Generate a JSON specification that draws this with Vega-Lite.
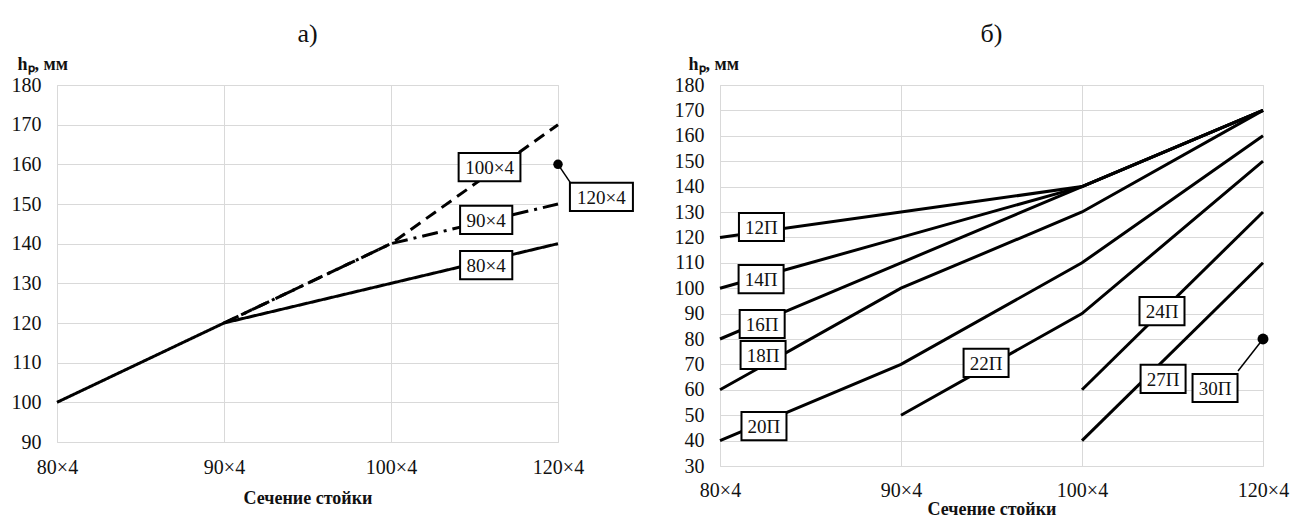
{
  "$schema": "https://vega.github.io/schema/vega-lite/v6.json",
  "background": "white",
  "padding": {"left": 10, "top": 20, "right": 5, "bottom": 5},
  "spacing": 162,
  "bounds": "flush",
  "config": {
    "view": {"stroke": "#d9d9d9", "strokeWidth": 1},
    "axis": {"domain": false, "ticks": false, "grid": true, "gridColor": "#d9d9d9", "gridWidth": 1, "labelOverlap": false, "labelFlush": false, "labelFont": "Times New Roman, Liberation Serif, serif", "labelFontSize": 20, "labelColor": "#111", "titleFont": "Times New Roman, Liberation Serif, serif", "titleFontSize": 18, "titleFontWeight": "bold", "titleColor": "#111"},
    "title": {"font": "Times New Roman, Liberation Serif, serif", "fontSize": 26, "fontWeight": "normal", "color": "#111", "anchor": "middle", "frame": "group"}
  },
  "datasets": {
    "a_lines": [
      {"series": "80×4", "i": 0, "hp": 100}, {"series": "80×4", "i": 1, "hp": 120}, {"series": "80×4", "i": 2, "hp": 130}, {"series": "80×4", "i": 3, "hp": 140},
      {"series": "90×4", "i": 1, "hp": 120}, {"series": "90×4", "i": 2, "hp": 140}, {"series": "90×4", "i": 3, "hp": 150},
      {"series": "100×4", "i": 1, "hp": 120}, {"series": "100×4", "i": 2, "hp": 140}, {"series": "100×4", "i": 3, "hp": 170}
    ],
    "a_points": [{"series": "120×4", "i": 3, "hp": 160}],
    "a_leaders": [{"i": 3, "hp": 160, "i2": 3.08, "hp2": 155}],
    "a_labels": [
      {"label": "100×4", "i": 2.59, "hp": 159.3},
      {"label": "90×4", "i": 2.57, "hp": 146},
      {"label": "80×4", "i": 2.57, "hp": 134.6},
      {"label": "120×4", "i": 3.26, "hp": 151.8}
    ],
    "b_lines": [
      {"series": "12П", "i": 0, "hp": 120}, {"series": "12П", "i": 1, "hp": 130}, {"series": "12П", "i": 2, "hp": 140}, {"series": "12П", "i": 3, "hp": 170},
      {"series": "14П", "i": 0, "hp": 100}, {"series": "14П", "i": 1, "hp": 120}, {"series": "14П", "i": 2, "hp": 140}, {"series": "14П", "i": 3, "hp": 170},
      {"series": "16П", "i": 0, "hp": 80}, {"series": "16П", "i": 1, "hp": 110}, {"series": "16П", "i": 2, "hp": 140}, {"series": "16П", "i": 3, "hp": 170},
      {"series": "18П", "i": 0, "hp": 60}, {"series": "18П", "i": 1, "hp": 100}, {"series": "18П", "i": 2, "hp": 130}, {"series": "18П", "i": 3, "hp": 170},
      {"series": "20П", "i": 0, "hp": 40}, {"series": "20П", "i": 1, "hp": 70}, {"series": "20П", "i": 2, "hp": 110}, {"series": "20П", "i": 3, "hp": 160},
      {"series": "22П", "i": 1, "hp": 50}, {"series": "22П", "i": 2, "hp": 90}, {"series": "22П", "i": 3, "hp": 150},
      {"series": "24П", "i": 2, "hp": 60}, {"series": "24П", "i": 3, "hp": 130},
      {"series": "27П", "i": 2, "hp": 40}, {"series": "27П", "i": 3, "hp": 110}
    ],
    "b_points": [{"series": "30П", "i": 3, "hp": 80}],
    "b_leaders": [{"i": 3, "hp": 80, "i2": 2.862, "hp2": 67.4}],
    "b_labels": [
      {"label": "12П", "i": 0.229, "hp": 124.1},
      {"label": "14П", "i": 0.227, "hp": 103.6},
      {"label": "16П", "i": 0.233, "hp": 85.9},
      {"label": "18П", "i": 0.238, "hp": 73.7},
      {"label": "20П", "i": 0.243, "hp": 45.7},
      {"label": "22П", "i": 1.47, "hp": 70.6},
      {"label": "24П", "i": 2.442, "hp": 91.0},
      {"label": "27П", "i": 2.448, "hp": 64.3},
      {"label": "30П", "i": 2.735, "hp": 60.7}
    ]
  },
  "resolve": {"scale": {"x": "independent", "y": "independent", "shape": "independent", "strokeDash": "independent"}},
  "hconcat": [
    {
      "width": 501,
      "height": 357,
      "title": {"text": "а)", "offset": 8},
      "layer": [
        {
          "data": {"name": "a_lines"},
          "mark": {"type": "line", "color": "black", "strokeWidth": 3},
          "encoding": {
            "x": {"field": "i", "type": "quantitative", "scale": {"domain": [0, 3], "nice": false},
              "axis": {"values": [0, 1, 2, 3], "tickCount": 10, "labelFlush": false, "labelFont": "Times New Roman, Liberation Serif, serif", "labelOverlap": false, "labelExpr": "['80×4','90×4','100×4','120×4'][datum.value]", "labelPadding": 15, "title": "Сечение стойки", "titlePadding": 12}},
            "y": {"field": "hp", "type": "quantitative", "scale": {"domain": [90, 180], "nice": false, "zero": false},
              "axis": {"values": [90, 100, 110, 120, 130, 140, 150, 160, 170, 180], "tickCount": 30, "labelFlush": false, "labelFont": "Times New Roman, Liberation Serif, serif", "labelOverlap": false, "labelPadding": 16, "title": "hₚ, мм", "titleAngle": 0, "titleAlign": "left", "titleBaseline": "middle", "titleX": -40, "titleY": -21}},
            "strokeDash": {"field": "series", "type": "nominal", "scale": {"domain": ["80×4", "90×4", "100×4"], "range": [[1, 0], [16, 6, 3, 6], [12, 7]]}, "legend": null}
          }
        },
        {
          "data": {"name": "a_leaders"},
          "mark": {"type": "rule", "color": "black", "strokeWidth": 1.5},
          "encoding": {
            "x": {"field": "i", "type": "quantitative"},
            "y": {"field": "hp", "type": "quantitative"},
            "x2": {"field": "i2"},
            "y2": {"field": "hp2"}
          }
        },
        {
          "data": {"name": "a_points"},
          "mark": {"type": "point", "filled": true, "color": "black", "size": 90, "opacity": 1},
          "encoding": {
            "x": {"field": "i", "type": "quantitative"},
            "y": {"field": "hp", "type": "quantitative"}
          }
        },
        {
          "data": {"name": "a_labels"},
          "mark": {"type": "point", "filled": true, "fill": "white", "stroke": "black", "strokeWidth": 2, "size": 3600, "opacity": 1},
          "encoding": {
            "x": {"field": "i", "type": "quantitative"},
            "y": {"field": "hp", "type": "quantitative"},
            "shape": {"field": "label", "type": "nominal", "legend": null,
              "scale": {"domain": ["100×4", "120×4", "90×4", "80×4"],
                "range": ["M-1.03,-0.47H1.03V0.47H-1.03Z", "M-1.05,-0.47H1.05V0.47H-1.05Z", "M-0.87,-0.47H0.87V0.47H-0.87Z", "M-0.87,-0.47H0.87V0.47H-0.87Z"]}}
          }
        },
        {
          "data": {"name": "a_labels"},
          "mark": {"type": "text", "font": "Times New Roman, Liberation Serif, serif", "fontSize": 19, "color": "#111", "align": "center", "baseline": "middle", "dy": 1},
          "encoding": {
            "x": {"field": "i", "type": "quantitative"},
            "y": {"field": "hp", "type": "quantitative"},
            "text": {"field": "label"}
          }
        }
      ]
    },
    {
      "width": 543,
      "height": 381,
      "title": {"text": "б)", "offset": 8},
      "layer": [
        {
          "data": {"name": "b_lines"},
          "mark": {"type": "line", "color": "black", "strokeWidth": 3},
          "encoding": {
            "x": {"field": "i", "type": "quantitative", "scale": {"domain": [0, 3], "nice": false},
              "axis": {"values": [0, 1, 2, 3], "tickCount": 10, "labelFlush": false, "labelFont": "Times New Roman, Liberation Serif, serif", "labelOverlap": false, "labelExpr": "['80×4','90×4','100×4','120×4'][datum.value]", "labelPadding": 14, "title": "Сечение стойки", "titlePadding": 0}},
            "y": {"field": "hp", "type": "quantitative", "scale": {"domain": [30, 180], "nice": false, "zero": false},
              "axis": {"values": [30, 40, 50, 60, 70, 80, 90, 100, 110, 120, 130, 140, 150, 160, 170, 180], "tickCount": 30, "labelFlush": false, "labelFont": "Times New Roman, Liberation Serif, serif", "labelOverlap": false, "labelPadding": 16, "title": "hₚ, мм", "titleAngle": 0, "titleAlign": "left", "titleBaseline": "middle", "titleX": -32, "titleY": -21}},
            "detail": {"field": "series", "type": "nominal"}
          }
        },
        {
          "data": {"name": "b_leaders"},
          "mark": {"type": "rule", "color": "black", "strokeWidth": 1.5},
          "encoding": {
            "x": {"field": "i", "type": "quantitative"},
            "y": {"field": "hp", "type": "quantitative"},
            "x2": {"field": "i2"},
            "y2": {"field": "hp2"}
          }
        },
        {
          "data": {"name": "b_points"},
          "mark": {"type": "point", "filled": true, "color": "black", "size": 120, "opacity": 1},
          "encoding": {
            "x": {"field": "i", "type": "quantitative"},
            "y": {"field": "hp", "type": "quantitative"}
          }
        },
        {
          "data": {"name": "b_labels"},
          "mark": {"type": "point", "filled": true, "fill": "white", "stroke": "black", "strokeWidth": 2, "size": 3600, "opacity": 1, "shape": "M-0.75,-0.47H0.75V0.47H-0.75Z"},
          "encoding": {
            "x": {"field": "i", "type": "quantitative"},
            "y": {"field": "hp", "type": "quantitative"}
          }
        },
        {
          "data": {"name": "b_labels"},
          "mark": {"type": "text", "font": "Times New Roman, Liberation Serif, serif", "fontSize": 19, "color": "#111", "align": "center", "baseline": "middle", "dy": 1},
          "encoding": {
            "x": {"field": "i", "type": "quantitative"},
            "y": {"field": "hp", "type": "quantitative"},
            "text": {"field": "label"}
          }
        }
      ]
    }
  ]
}
